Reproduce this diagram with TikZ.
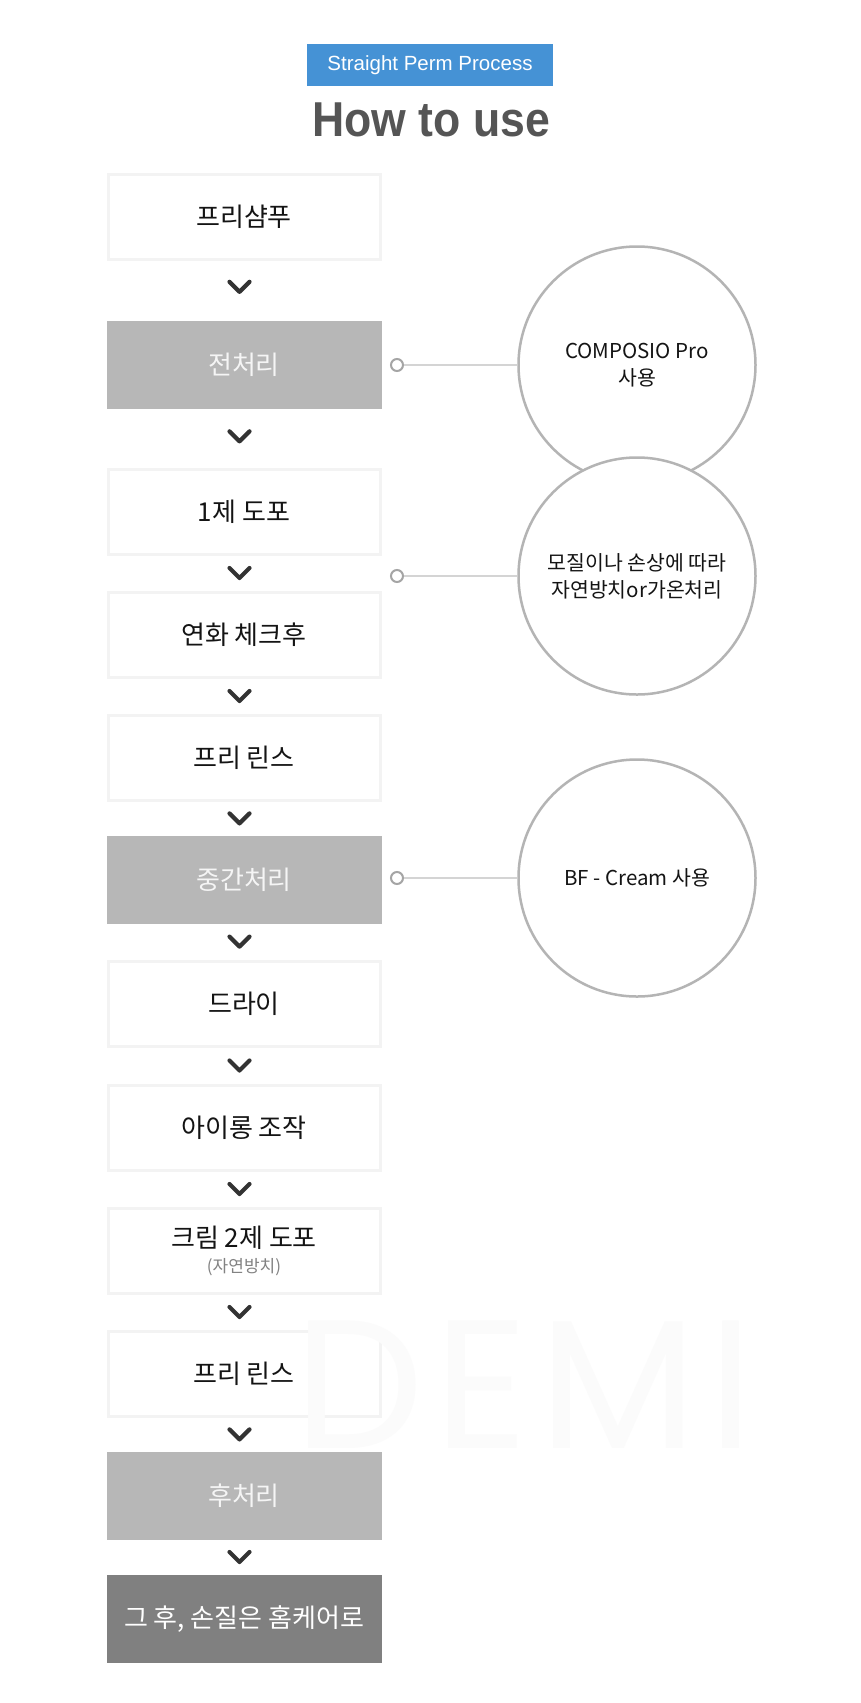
\documentclass[tikz,border=0pt]{standalone}
\usepackage{fontspec}
\usepackage{graphicx}
\setmainfont{Noto Sans CJK KR}
\newfontfamily\hfont{Liberation Sans}
\newfontfamily\wmfont[LetterSpace=6]{Poppins}
\usetikzlibrary{calc}
\definecolor{bannerblue}{RGB}{69,146,213}
\definecolor{titlegray}{RGB}{85,85,85}
\definecolor{boxline}{RGB}{243,243,243}
\definecolor{midgray}{RGB}{183,183,183}
\definecolor{darkgray}{RGB}{128,128,128}
\definecolor{textdark}{RGB}{20,20,20}
\definecolor{chevcol}{RGB}{51,51,51}
\definecolor{ringcol}{RGB}{180,180,180}
\definecolor{linecol}{RGB}{212,212,212}
\definecolor{dotcol}{RGB}{165,165,165}
\definecolor{subgray}{RGB}{130,130,130}
\definecolor{wmcol}{RGB}{251,251,251}
\begin{document}
\begin{tikzpicture}[x=1pt,y=-1pt,
  stepbox/.style={rectangle, inner sep=0pt, align=center, font=\fontsize{26}{30}\selectfont},
  wbox/.style={stepbox, minimum width=272pt, minimum height=85pt, fill=white, draw=boxline, line width=3pt, text=textdark},
  gbox/.style={stepbox, minimum width=275pt, minimum height=88pt, fill=midgray, text=white!96!black},
  dbox/.style={stepbox, minimum width=275pt, minimum height=88pt, fill=darkgray, text=white},
  chev/.style={draw=chevcol, line width=4.2pt, line cap=round, line join=round},
  ring/.style={circle, minimum size=237pt, inner sep=0pt, draw=ringcol, line width=2.5pt, fill=white, align=center, text=textdark, font=\fontsize{20.5}{27}\selectfont},
  dot/.style={circle, minimum size=12pt, inner sep=0pt, draw=dotcol, line width=2pt, fill=white},
  conn/.style={draw=linecol, line width=1.5pt}
]
\useasboundingbox[fill=white] (0,0) rectangle (860,1703);

% header
\node[rectangle, minimum width=246pt, minimum height=42pt, inner sep=0pt, fill=bannerblue, text=white, font=\hfont\fontsize{20.5}{24}\selectfont] (banner) at (430,65) {Straight Perm Process};
\node[anchor=base, text=titlegray, font=\hfont\bfseries\fontsize{49}{56}\selectfont, inner sep=0pt] (title) at (431,136) {\scalebox{0.91}[1]{How to use}};

% steps
\node[wbox] (b1) at (244,217) {프리샴푸};
\node[gbox] (b2) at (244,365) {전처리};
\node[wbox] (b3) at (244,512) {1제 도포};
\node[wbox] (b4) at (244,635) {연화 체크후};
\node[wbox] (b5) at (244,758) {프리 린스};
\node[gbox] (b6) at (244,880) {중간처리};
\node[wbox] (b7) at (244,1004) {드라이};
\node[wbox] (b8) at (244,1128) {아이롱 조작};
\node[wbox] (b9) at (244,1251) {크림 2제 도포\\[-5pt]{\fontsize{17}{20}\selectfont\color{subgray}(자연방치)}};
\node[wbox] (b10) at (244,1374) {프리 린스};
\node[gbox] (b11) at (244,1496) {후처리};
\node[dbox] (b12) at (244,1619) {그 후, 손질은 홈케어로};

% chevrons
\foreach \a/\b/\p in {b1/b2/0.44, b2/b3/0.47, b3/b4/0.5, b4/b5/0.5, b5/b6/0.5, b6/b7/0.5, b7/b8/0.5, b8/b9/0.5, b9/b10/0.5, b10/b11/0.5, b11/b12/0.5}
  \draw[chev] ($(\a.south)!\p!(\b.north)$) ++(-14.5,-5.5) -- ++(10,10) -- ++(10,-10);

% side notes
\node[ring] (c1) at (637,365) {COMPOSIO Pro\\사용};
\node[ring] (c2) at (637,576) {모질이나 손상에 따라\\자연방치or가온처리};
\node[ring] (c3) at (637,878) {BF - Cream 사용};
\node[dot] (d1) at (397,365) {};
\node[dot] (d2) at (397,576) {};
\node[dot] (d3) at (397,878) {};
\draw[conn] (d1) -- (c1);
\draw[conn] (d2) -- (c2);
\draw[conn] (d3) -- (c3);

% watermark
\node[anchor=base, text=wmcol, font=\wmfont\fontsize{183}{190}\selectfont, inner sep=0pt] (wm) at (524,1448) {DEMI};
\end{tikzpicture}
\end{document}
